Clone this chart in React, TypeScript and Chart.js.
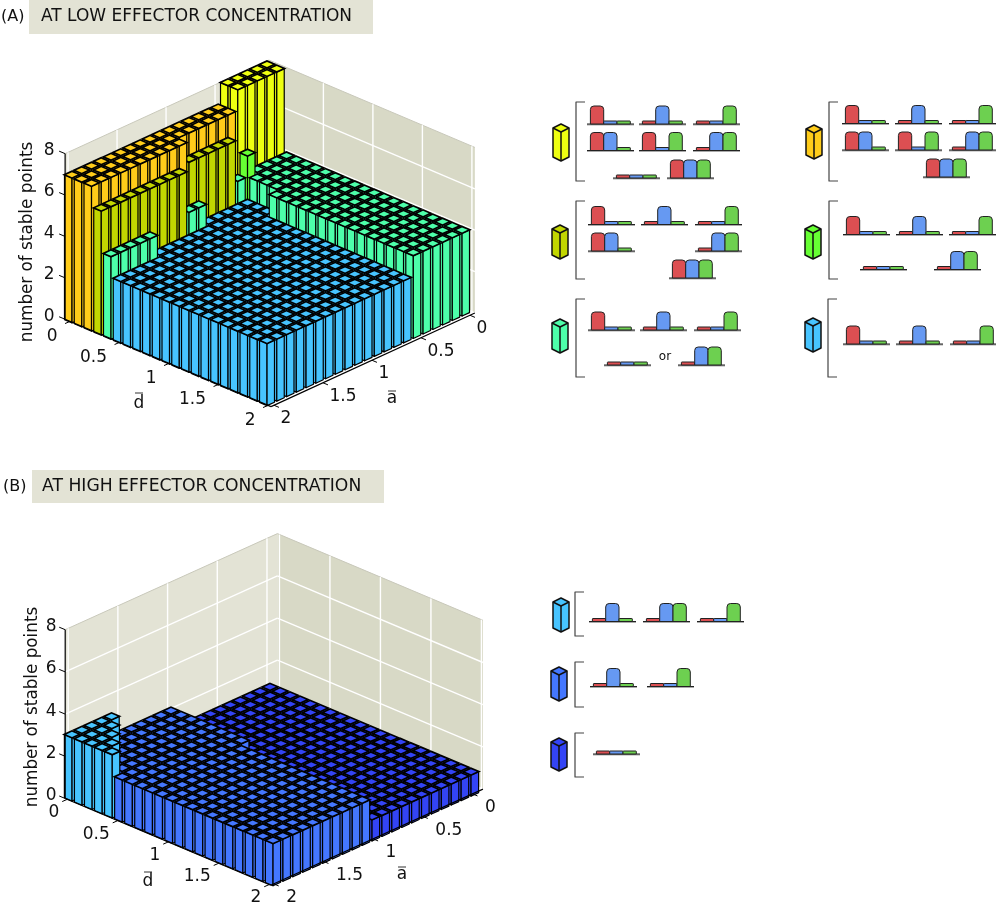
import React, { useEffect, useRef } from "react";
import { Chart, registerables } from "chart.js";

Chart.register(...registerables);

// ---------- data ----------
const heightsA: number[][] = [
  [8,8,8,8,8,7,7,7,7,7,7,7,7,7,7,7,7,7,7,7,7],
  [8,8,8,8,8,7,7,7,7,7,7,7,7,7,7,7,7,7,7,7,7],
  [4,4,4,4,5,4,6,6,6,6,6,7,7,7,7,7,7,7,7,7,7],
  [4,4,4,4,4,3,3,3,3,3,4,4,6,6,6,6,6,6,6,6,6],
  [4,4,4,4,4,3,3,3,3,3,3,3,3,3,3,3,4,4,4,4,4],
  [4,4,4,4,4,3,3,3,3,3,3,3,3,3,3,3,3,3,3,3,3],
  [4,4,4,4,4,4,3,3,3,3,3,3,3,3,3,3,3,3,3,3,3],
  [4,4,4,4,4,4,3,3,3,3,3,3,3,3,3,3,3,3,3,3,3],
  [4,4,4,4,4,4,3,3,3,3,3,3,3,3,3,3,3,3,3,3,3],
  [4,4,4,4,4,4,3,3,3,3,3,3,3,3,3,3,3,3,3,3,3],
  [4,4,4,4,4,4,3,3,3,3,3,3,3,3,3,3,3,3,3,3,3],
  [4,4,4,4,4,4,3,3,3,3,3,3,3,3,3,3,3,3,3,3,3],
  [4,4,4,4,4,4,3,3,3,3,3,3,3,3,3,3,3,3,3,3,3],
  [4,4,4,4,4,4,3,3,3,3,3,3,3,3,3,3,3,3,3,3,3],
  [4,4,4,4,4,4,3,3,3,3,3,3,3,3,3,3,3,3,3,3,3],
  [4,4,4,4,4,4,3,3,3,3,3,3,3,3,3,3,3,3,3,3,3],
  [4,4,4,4,4,4,3,3,3,3,3,3,3,3,3,3,3,3,3,3,3],
  [4,4,4,4,4,4,3,3,3,3,3,3,3,3,3,3,3,3,3,3,3],
  [4,4,4,4,4,4,3,3,3,3,3,3,3,3,3,3,3,3,3,3,3],
  [4,4,4,4,4,4,3,3,3,3,3,3,3,3,3,3,3,3,3,3,3],
  [4,4,4,4,4,4,3,3,3,3,3,3,3,3,3,3,3,3,3,3,3],
];
const heightsB: number[][] = [
  [1,1,1,1,1,1,1,1,1,1,2,2,2,2,2,2,3,3,3,3,3],
  [1,1,1,1,1,1,1,1,1,1,2,2,2,2,2,2,2,3,3,3,3],
  [1,1,1,1,1,1,1,1,1,1,2,2,2,2,2,2,2,2,3,3,3],
  [1,1,1,1,1,1,1,1,1,1,2,2,2,2,2,2,2,2,2,3,3],
  [1,1,1,1,1,1,1,1,1,1,2,2,2,2,2,2,2,2,2,2,3],
  [1,1,1,1,1,1,1,1,1,1,2,2,2,2,2,2,2,2,2,2,2],
  [1,1,1,1,1,1,1,1,1,1,2,2,2,2,2,2,2,2,2,2,2],
  [1,1,1,1,1,1,1,1,1,1,2,2,2,2,2,2,2,2,2,2,2],
  [1,1,1,1,1,1,1,1,1,1,1,2,2,2,2,2,2,2,2,2,2],
  [1,1,1,1,1,1,1,1,1,1,1,2,2,2,2,2,2,2,2,2,2],
  [1,1,1,1,1,1,1,1,1,1,1,2,2,2,2,2,2,2,2,2,2],
  [1,1,1,1,1,1,1,1,1,1,1,2,2,2,2,2,2,2,2,2,2],
  [1,1,1,1,1,1,1,1,1,1,1,2,2,2,2,2,2,2,2,2,2],
  [1,1,1,1,1,1,1,1,1,1,1,2,2,2,2,2,2,2,2,2,2],
  [1,1,1,1,1,1,1,1,1,1,1,2,2,2,2,2,2,2,2,2,2],
  [1,1,1,1,1,1,1,1,1,1,1,2,2,2,2,2,2,2,2,2,2],
  [1,1,1,1,1,1,1,1,1,1,1,2,2,2,2,2,2,2,2,2,2],
  [1,1,1,1,1,1,1,1,1,1,1,2,2,2,2,2,2,2,2,2,2],
  [1,1,1,1,1,1,1,1,1,1,1,2,2,2,2,2,2,2,2,2,2],
  [1,1,1,1,1,1,1,1,1,1,1,2,2,2,2,2,2,2,2,2,2],
  [1,1,1,1,1,1,1,1,1,1,1,2,2,2,2,2,2,2,2,2,2],
];
const dTicks = [0, 0.5, 1, 1.5, 2];
const aTicks = [0, 0.5, 1, 1.5, 2];
const zTicks = [0, 2, 4, 6, 8];
const titleA = "AT LOW EFFECTOR CONCENTRATION";
const titleB = "AT HIGH EFFECTOR CONCENTRATION";
const zLabel = "number of stable points";

// Legend: which regime patterns go with a bar height (H = high, L = low for red, blue, green)
const patterns8 = [["HLL", "LHL", "LLH"], ["HHL", "HLH", "LHH"], ["LLL", "HHH"]];
const patterns7 = [["HLL", "LHL", "LLH"], ["HHL", "HLH", "LHH"], ["HHH"]];
const patterns6 = [["HLL", "LHL", "LLH"], ["HHL", "LHH"], ["HHH"]];
const patterns5 = [["HLL", "LHL", "LLH"], ["LLL", "LHH"]];
const patterns4 = [["HLL", "LHL", "LLH"], ["LLL", "LHH"]];
const patterns3 = [["HLL", "LHL", "LLH"]];
const patternsB3 = [["LHL", "LHH", "LLH"]];
const patternsB2 = [["LHL", "LLH"]];
const patternsB1 = [["LLL"]];

// ---------- styles and layout ----------
const FONT = '"DejaVu Sans"';
const heightColor: Record<number, string> = {
  8: "#EEFF11", 7: "#FFCC1A", 6: "#C2D600", 5: "#66FF33", 4: "#4DFFAA",
  3: "#47C4FF", 2: "#4477FF", 1: "#3344F5",
};
const LEFT_WALL = "#E3E3D5";
const RIGHT_WALL = "#D8D9C6";
const RED = "#DC4F52", BLUE = "#6699F2", GREEN = "#6DD050";
type Panel = {
  ox: number; oy: number; ud: number[]; ua: number[]; uz: number;
  dLo: number; dHi: number; aLo: number; aHi: number;
  barD: number; barA: number; barDx: number;
  dLabel: number[]; aLabel: number[]; zLabelDx: number;
};
const panelA: Panel = {
  ox: 269, oy: 230, ud: [99, 42], ua: [-98, 45], uz: 20.7,
  dLo: -0.05, dHi: 2.03, aLo: -0.05, aHi: 2.03,
  barD: 0.0985, barA: 0.0995, barDx: -2,
  dLabel: [-12.5, 15.5], aLabel: [6.5, 13.5], zLabelDx: -16,
};
const panelB: Panel = {
  ox: 269, oy: 708, ud: [101, 42.6], ua: [-99.4, 45], uz: 21.1,
  dLo: -0.02, dHi: 2.015, aLo: -0.105, aHi: 2.03,
  barD: 0.0995, barA: 0.0996, barDx: 1,
  dLabel: [-8, 13.5], aLabel: [12.5, 14], zLabelDx: -14,
};
const HALF = 0.038, CELL_HALF = 0.05, TOP_HALF = 0.029;
const project = (p: Panel, d: number, a: number, z: number) => [
  p.ox + d * p.ud[0] + a * p.ua[0],
  p.oy + d * p.ud[1] + a * p.ua[1] - z * p.uz,
];

type Group = { height: number; patterns: string[][]; cube: number[]; bracket: number[]; xs: number[][]; ys: number[] };
const legendGroups: Group[] = [
  { height: 8, patterns: patterns8, cube: [561, 124, 161], bracket: [576, 102, 181], xs: [[587, 639, 693], [587, 639, 693], [613, 667]], ys: [124, 150.5, 178] },
  { height: 6, patterns: patterns6, cube: [560, 225, 259], bracket: [576, 201, 279], xs: [[588, 641, 695], [588, 695], [669]], ys: [224.5, 251, 278] },
  { height: 4, patterns: patterns4, cube: [560, 319, 353], bracket: [576, 299, 377], xs: [[588, 640, 694], [604, 678]], ys: [330, 365] },
  { height: 7, patterns: patterns7, cube: [814, 125, 159], bracket: [829, 102, 181], xs: [[842, 895, 949], [842, 895, 949], [923]], ys: [123.5, 150, 177] },
  { height: 5, patterns: patterns5, cube: [813, 225, 259], bracket: [829, 201, 279], xs: [[843, 896, 949], [860, 934]], ys: [234.5, 269.5] },
  { height: 3, patterns: patterns3, cube: [813, 318, 352], bracket: [828, 299, 377], xs: [[843, 896, 950]], ys: [344] },
  { height: 3, patterns: patternsB3, cube: [561, 598, 632], bracket: [575, 592, 636], xs: [[589, 643, 697]], ys: [621.5] },
  { height: 2, patterns: patternsB2, cube: [559, 667, 701], bracket: [575, 662, 707], xs: [[590, 647]], ys: [686.5] },
  { height: 1, patterns: patternsB1, cube: [559, 738, 771], bracket: [575, 733, 777], xs: [[593]], ys: [754] },
];

function cells(p: Panel, heights: number[][]) {
  const out: any[] = [];
  heights.forEach((row, i) => row.forEach((h, j) => {
    const [x, y] = project(p, i * p.barD, j * p.barA, h);
    out.push({ x: x + p.barDx, y, i, j, h });
  }));
  return out.sort((u, v) => u.i + u.j - (v.i + v.j) || u.i - v.i);
}

const poly3 = (ctx: CanvasRenderingContext2D, pts: number[][]) => {
  ctx.beginPath();
  pts.forEach((q, k) => (k ? ctx.lineTo(q[0], q[1]) : ctx.moveTo(q[0], q[1])));
  ctx.closePath();
};

const drawingPlugin = {
  id: "resketch3d",
  afterDatasetsDraw(chart: any) {
    const ctx: CanvasRenderingContext2D = chart.ctx;
    const sx = (v: number) => chart.scales.x.getPixelForValue(v);
    const sy = (v: number) => chart.scales.y.getPixelForValue(v);
    const pt = (p: Panel, d: number, a: number, z: number) => {
      const [x, y] = project(p, d, a, z);
      return [sx(x), sy(y)];
    };
    const line = (q: number[], r: number[], color = "#000", w = 1) => {
      ctx.strokeStyle = color; ctx.lineWidth = w;
      ctx.beginPath(); ctx.moveTo(q[0], q[1]); ctx.lineTo(r[0], r[1]); ctx.stroke();
    };
    const text = (s: string, x: number, y: number, size: number, align: CanvasTextAlign = "center") => {
      ctx.fillStyle = "#111"; ctx.font = `${size}px ${FONT}`;
      ctx.textAlign = align; ctx.textBaseline = "middle";
      ctx.fillText(s, sx(x), sy(y));
    };

    const drawWalls = (p: Panel) => {
      const { dLo, dHi, aLo, aHi } = p;
      poly3(ctx, [pt(p, dLo, aLo, 0), pt(p, dLo, aHi, 0), pt(p, dLo, aHi, 8), pt(p, dLo, aLo, 8)]);
      ctx.fillStyle = LEFT_WALL; ctx.fill();
      poly3(ctx, [pt(p, dLo, aLo, 0), pt(p, dHi, aLo, 0), pt(p, dHi, aLo, 8), pt(p, dLo, aLo, 8)]);
      ctx.fillStyle = RIGHT_WALL; ctx.fill();
      line(pt(p, dLo, aHi, 8), pt(p, dLo, aLo, 8), "#c8c8ba", 1);
      line(pt(p, dLo, aLo, 8), pt(p, dHi, aLo, 8), "#c8c8ba", 1);
      zTicks.forEach((z) => {
        if (z === 8) return;
        line(pt(p, dLo, aHi, z), pt(p, dLo, aLo, z), "#fff", 1.4);
        line(pt(p, dLo, aLo, z), pt(p, dHi, aLo, z), "#fff", 1.4);
      });
      aTicks.forEach((a) => line(pt(p, dLo, a, 0), pt(p, dLo, a, 8), "#fff", 1.4));
      dTicks.forEach((d) => line(pt(p, d, aLo, 0), pt(p, d, aLo, 8), "#fff", 1.4));
    };

    const drawBars = (p: Panel, data: any[]) => {
      ctx.lineJoin = "round";
      const P = (d: number, a: number, z: number) => {
        const q = pt(p, d, a, z);
        return [q[0] + p.barDx, q[1]];
      };
      data.forEach((c) => {
        const d = c.i * p.barD, a = c.j * p.barA, h = c.h;
        const dl = d - HALF, dh = d + HALF, al = a - HALF, ah = a + HALF;
        ctx.fillStyle = heightColor[h];
        ctx.strokeStyle = "#000";
        ctx.lineWidth = 1.2;
        poly3(ctx, [P(dl, ah, 0), P(dh, ah, 0), P(dh, ah, h), P(dl, ah, h)]);
        ctx.fill(); ctx.stroke();
        poly3(ctx, [P(dh, ah, 0), P(dh, al, 0), P(dh, al, h), P(dh, ah, h)]);
        ctx.fill(); ctx.stroke();
        // top: a black cell with the coloured diamond inset
        const C = CELL_HALF, T = TOP_HALF;
        poly3(ctx, [P(d - C, a - C, h), P(d + C, a - C, h), P(d + C, a + C, h), P(d - C, a + C, h)]);
        ctx.fillStyle = "#000"; ctx.fill();
        poly3(ctx, [P(d - T, a - T, h), P(d + T, a - T, h), P(d + T, a + T, h), P(d - T, a + T, h)]);
        ctx.fillStyle = heightColor[h]; ctx.fill();
      });
    };

    const drawAxes = (p: Panel) => {
      const { dLo, dHi, aLo, aHi } = p;
      line(pt(p, dLo, aHi, 0), pt(p, dLo, aHi, 8), "#000", 1.2);
      line(pt(p, dLo, aHi, 0), pt(p, dHi, aHi, 0), "#000", 1.2);
      line(pt(p, dHi, aHi, 0), pt(p, dHi, aLo, 0), "#000", 1.2);
      zTicks.forEach((z) => {
        const q = pt(p, dLo, aHi, z);
        line(q, [q[0] - 6, q[1] - 2.5], "#000", 1);
        const r = project(p, dLo, aHi, z);
        text(String(z), r[0] + p.zLabelDx, r[1] - 3, 17);
      });
      dTicks.forEach((d) => {
        const q = pt(p, d, aHi, 0);
        line(q, [q[0] - 5, q[1] + 2.2], "#000", 1);
        const r = project(p, d, aHi, 0);
        text(String(d), r[0] + p.dLabel[0], r[1] + p.dLabel[1], 17, "right");
      });
      aTicks.forEach((a) => {
        const q = pt(p, dHi, a, 0);
        line(q, [q[0] + 5, q[1] + 2.1], "#000", 1);
        const r = project(p, dHi, a, 0);
        text(String(a), r[0] + p.aLabel[0], r[1] + p.aLabel[1], 17, "left");
      });
    };

    const drawMini = (pattern: string, x: number, y: number) => {
      const bw = 13.3;
      line([sx(x), sy(y) + 0.7], [sx(x + 47), sy(y) + 0.7], "#aaa", 1.4);
      line([sx(x), sy(y)], [sx(x + 47), sy(y)], "#222", 1);
      [RED, BLUE, GREEN].forEach((col, k) => {
        const left = sx(x + 3.4 + k * bw), right = left + bw;
        const base = sy(y);
        const high = pattern[k] === "H";
        const top = base - (high ? 18 : 3);
        const r = high ? 3.5 : 0.5;
        ctx.beginPath();
        ctx.moveTo(left, base);
        ctx.lineTo(left, top + r);
        ctx.quadraticCurveTo(left, top, left + r, top);
        ctx.lineTo(right - r, top);
        ctx.quadraticCurveTo(right, top, right, top + r);
        ctx.lineTo(right, base);
        ctx.closePath();
        ctx.fillStyle = col; ctx.fill();
        ctx.strokeStyle = "#222"; ctx.lineWidth = 1; ctx.stroke();
      });
    };

    const drawCube = (cx: number, top: number, bottom: number, color: string) => {
      const X = sx(cx), T = sy(top), B = sy(bottom), w = 8, h = 4;
      ctx.fillStyle = color; ctx.strokeStyle = "#111"; ctx.lineWidth = 1.5;
      poly3(ctx, [[X, T], [X + w, T + h], [X + w, B - h], [X, B], [X - w, B - h], [X - w, T + h]]);
      ctx.fill(); ctx.stroke();
      ctx.beginPath();
      ctx.moveTo(X - w, T + h); ctx.lineTo(X, T + 2 * h); ctx.lineTo(X + w, T + h);
      ctx.stroke();
      line([X, T + 2 * h], [X, B], "#111", 1.5);
    };

    const drawLegend = () => {
      legendGroups.forEach((g) => {
        drawCube(g.cube[0], g.cube[1], g.cube[2], heightColor[g.height]);
        const [bx, b0, b1] = g.bracket;
        ctx.strokeStyle = "#444"; ctx.lineWidth = 1.2;
        ctx.beginPath();
        ctx.moveTo(sx(bx + 9), sy(b0)); ctx.lineTo(sx(bx), sy(b0));
        ctx.lineTo(sx(bx), sy(b1)); ctx.lineTo(sx(bx + 9), sy(b1));
        ctx.stroke();
        g.patterns.forEach((row, r) => row.forEach((pat, k) => drawMini(pat, g.xs[r][k], g.ys[r])));
      });
      text("or", 665, 357, 12);
    };

    const drawTitle = (label: string, title: string, rx: number, rw: number, ry: number, rh: number, tx: number, lx: number, cy: number, size: number) => {
      ctx.fillStyle = LEFT_WALL;
      ctx.fillRect(sx(rx), sy(ry), rw, rh);
      text(title, tx, cy, size, "left");
      text(label, lx, cy, 16, "left");
    };

    const rotated = (x: number, y: number) => {
      ctx.save();
      ctx.translate(sx(x), sy(y));
      ctx.rotate(-Math.PI / 2);
      ctx.fillStyle = "#111"; ctx.font = `16.8px ${FONT}`;
      ctx.textAlign = "center"; ctx.textBaseline = "middle";
      ctx.fillText(zLabel, 0, 0);
      ctx.restore();
    };
    const barred = (s: string, x: number, y: number, barY: number) => {
      text(s, x, y, 17);
      line([sx(x - 4), sy(barY)], [sx(x + 4), sy(barY)], "#333", 1);
    };

    drawWalls(panelA);
    drawBars(panelA, chart.data.datasets[0].data);
    drawAxes(panelA);
    drawWalls(panelB);
    drawBars(panelB, chart.data.datasets[1].data);
    drawAxes(panelB);
    drawLegend();
    drawTitle("(A)", titleA, 29, 344, 0, 34, 41, 1, 17, 17);
    drawTitle("(B)", titleB, 32, 352, 470, 33, 42, 3, 487, 17.2);
    rotated(28, 242);
    rotated(33, 707);
    barred("d", 139, 404, 393);
    barred("a", 392, 399, 391);
    barred("d", 148, 882, 872);
    barred("a", 402, 875, 867);
  },
};

export default function App() {
  const ref = useRef<HTMLCanvasElement>(null);
  useEffect(() => {
    document.body.style.margin = "0";
    const chart = new Chart(ref.current!, {
      type: "scatter",
      data: {
        datasets: [
          { label: "At low effector concentration", data: cells(panelA, heightsA), pointRadius: 0 },
          { label: "At high effector concentration", data: cells(panelB, heightsB), pointRadius: 0 },
        ],
      },
      options: {
        animation: false,
        responsive: false,
        layout: { padding: 0 },
        plugins: { legend: { display: false }, tooltip: { enabled: false }, title: { display: false } },
        scales: {
          x: { type: "linear", min: 0, max: 996, display: false },
          y: { type: "linear", min: 0, max: 910, reverse: true, display: false },
        },
      },
      plugins: [drawingPlugin],
    } as any);
    return () => chart.destroy();
  }, []);
  return <canvas ref={ref} width={996} height={910} style={{ display: "block", width: 996, height: 910 }} />;
}
